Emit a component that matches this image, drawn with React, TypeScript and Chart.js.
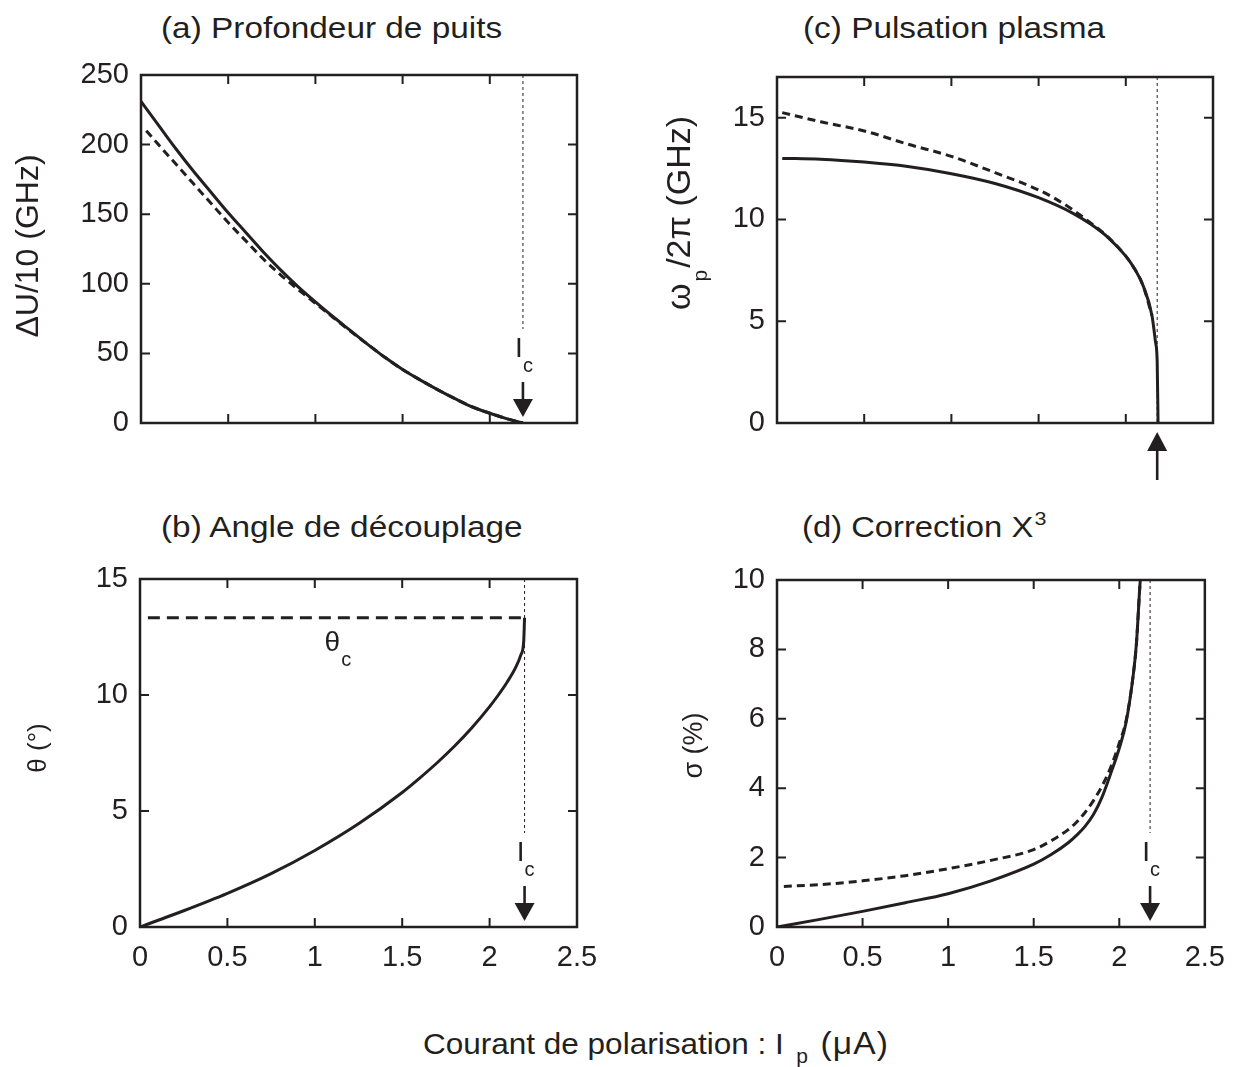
import React, { useEffect, useRef } from 'react';
import { Chart, registerables } from 'chart.js';

Chart.register(...registerables);

const FONT = "'Liberation Sans', Arial, Helvetica, sans-serif";
const INK = '#231f20';
Chart.defaults.font.family = FONT;

// ---------- shared x axis ----------
const X_MIN = 0;
const X_MAX = 2.5;
const X_STEP = 0.5;

// ---------- texts ----------
const TITLE_A = '(a) Profondeur de puits';
const TITLE_B = '(b) Angle de découplage';
const TITLE_C = '(c) Pulsation plasma';
const TITLE_D = '(d) Correction X';
const X_TITLE_MAIN = 'Courant de polarisation : I';
const X_TITLE_SUB = 'p';
const X_TITLE_END = '(μA)';

// ---------- (a) Profondeur de puits : ΔU/10 (GHz) ----------
const aSolidI = [0, 0.1, 0.2, 0.3, 0.4, 0.5, 0.6, 0.7, 0.8, 0.9, 1.0, 1.1, 1.2, 1.3, 1.4, 1.5, 1.6, 1.7, 1.8, 1.9, 2.0, 2.1, 2.15, 2.19];
const aSolidDU = [231, 214, 197, 181, 166, 151, 137, 123, 110, 98, 87, 76.5, 66.5, 56.5, 47, 38.5, 31, 24, 17.5, 11.5, 7, 3, 1.3, 0];
const aDashI = [0.03, 0.1, 0.2, 0.3, 0.4, 0.5, 0.6, 0.7, 0.8, 0.9, 1.0, 1.1, 1.2, 1.3, 1.4, 1.5, 1.6, 1.7, 1.8, 1.9, 2.0, 2.1, 2.15, 2.19];
const aDashDU = [210, 200, 186, 172, 158, 144, 131, 118, 106.5, 96, 86, 76, 66, 56.5, 47, 38.5, 31, 24, 17.5, 11.5, 7, 3, 1.3, 0];
const aIc = 2.19;
const aY = { min: 0, max: 250, step: 50 };

// ---------- (b) Angle de découplage : θ (°) ----------
const bI = [0, 0.1, 0.25, 0.5, 0.75, 1.0, 1.25, 1.5, 1.6, 1.7, 1.8, 1.9, 2.0, 2.05, 2.1, 2.15, 2.18, 2.195, 2.2];
const bTheta = [0, 0.28, 0.7, 1.45, 2.3, 3.3, 4.45, 5.8, 6.42, 7.08, 7.8, 8.6, 9.5, 10.0, 10.55, 11.2, 11.75, 12.3, 13.33];
const bThetaCI = [0.045, 2.2];
const bThetaCVal = [13.33, 13.33];
const bThetaLabelI = 1.1;
const bIc = 2.2;
const bY = { min: 0, max: 15, step: 5 };

// ---------- (c) Pulsation plasma : ωp/2π (GHz) ----------
const cSolidI = [0.03, 0.25, 0.5, 0.75, 1.0, 1.25, 1.5, 1.7, 1.8, 1.9, 2.0, 2.05, 2.1, 2.15, 2.17, 2.18, 2.185];
const cSolidW = [13.0, 12.96, 12.82, 12.6, 12.25, 11.77, 11.07, 10.29, 9.76, 9.1, 8.2, 7.58, 6.73, 5.28, 4.0, 3.0, 0];
const cDashI = [0.03, 0.25, 0.5, 0.75, 1.0, 1.25, 1.5, 1.6, 1.7, 1.8, 1.9, 2.0, 2.05, 2.1, 2.15];
const cDashW = [15.25, 14.8, 14.35, 13.7, 13.1, 12.3, 11.45, 11.0, 10.45, 9.82, 9.12, 8.2, 7.58, 6.73, 5.28];
const cIc = 2.18;
const cY = { min: 0, max: 17, step: 5 };

// ---------- (d) Correction X³ : σ (%) ----------
const dSolidI = [0, 0.25, 0.5, 0.75, 1.0, 1.25, 1.5, 1.6, 1.7, 1.75, 1.8, 1.85, 1.9, 1.95, 2.0, 2.04, 2.08, 2.1, 2.12, 2.13];
const dSolidS = [0, 0.22, 0.45, 0.7, 0.96, 1.33, 1.81, 2.08, 2.42, 2.64, 2.9, 3.25, 3.75, 4.42, 5.15, 5.9, 7.2, 8.15, 9.8, 10.5];
const dDashI = [0.04, 0.25, 0.5, 0.75, 1.0, 1.25, 1.5, 1.6, 1.7, 1.75, 1.8, 1.85, 1.9, 1.95, 2.0, 2.04, 2.08, 2.1, 2.12, 2.13];
const dDashS = [1.17, 1.22, 1.33, 1.48, 1.68, 1.92, 2.23, 2.48, 2.8, 3.02, 3.3, 3.65, 4.07, 4.6, 5.3, 5.95, 7.2, 8.15, 9.8, 10.5];
const dIc = 2.18;
const dY = { min: 0, max: 10, step: 2 };

// ---------- layout ----------
type Part = { t: string; size: number; shift?: number; gap?: number };
type Series = { xs: number[]; ys: number[]; dash?: number[] };
type Spec = {
  key: string;
  box: { left: number; top: number; width: number; height: number };
  area: { left: number; top: number; right: number; bottom: number };
  xLabels: boolean;
  y: { min: number; max: number; step: number };
  series: Series[];
  ic: number;
  marker: 'down' | 'up';
  yTitle: { x: number; dy: number; parts: Part[] };
  extra?: (chart: any) => void;
};

const CURVE_DASH = [8, 5];
const TICK_SIZE = 29;

const specs: Spec[] = [
  {
    key: 'a',
    box: { left: 0, top: 40, width: 620, height: 440 },
    area: { left: 141, top: 75, right: 577, bottom: 423 },
    xLabels: false,
    y: aY,
    series: [
      { xs: aSolidI, ys: aSolidDU },
      { xs: aDashI, ys: aDashDU, dash: CURVE_DASH },
    ],
    ic: aIc,
    marker: 'down',
    yTitle: { x: 38, dy: -3, parts: [{ t: 'ΔU/10 (GHz)', size: 32 }] },
  },
  {
    key: 'c',
    box: { left: 620, top: 40, width: 619, height: 440 },
    area: { left: 777, top: 77, right: 1213, bottom: 423 },
    xLabels: false,
    y: cY,
    series: [
      { xs: cSolidI, ys: cSolidW },
      { xs: cDashI, ys: cDashW, dash: CURVE_DASH },
    ],
    ic: cIc,
    marker: 'up',
    yTitle: {
      x: 690,
      dy: -37,
      parts: [
        { t: 'ω', size: 34 },
        { t: 'p', size: 21, shift: 17, gap: 2 },
        { t: '/2π (GHz)', size: 34 },
      ],
    },
  },
  {
    key: 'b',
    box: { left: 0, top: 540, width: 620, height: 470 },
    area: { left: 140, top: 579, right: 577, bottom: 927 },
    xLabels: true,
    y: bY,
    series: [
      { xs: bI, ys: bTheta },
      { xs: bThetaCI, ys: bThetaCVal, dash: [12, 7] },
    ],
    ic: bIc,
    marker: 'down',
    yTitle: { x: 46, dy: -5, parts: [{ t: 'θ (°)', size: 26 }] },
    extra: (chart) => {
      const { ctx, scales } = chart;
      const px = scales.x.getPixelForValue(bThetaLabelI);
      const py = scales.y.getPixelForValue(bThetaCVal[0]);
      ctx.fillStyle = INK;
      ctx.textAlign = 'center';
      ctx.textBaseline = 'alphabetic';
      ctx.font = `28px ${FONT}`;
      ctx.fillText('θ', px, py + 33);
      ctx.font = `20px ${FONT}`;
      ctx.fillText('c', px + 14, py + 48);
    },
  },
  {
    key: 'd',
    box: { left: 620, top: 540, width: 619, height: 470 },
    area: { left: 777, top: 580, right: 1213, bottom: 927 },
    xLabels: true,
    y: dY,
    series: [
      { xs: dSolidI, ys: dSolidS },
      { xs: dDashI, ys: dDashS, dash: CURVE_DASH },
    ],
    ic: dIc,
    marker: 'down',
    yTitle: { x: 702, dy: -8, parts: [{ t: 'σ (%)', size: 27 }] },
  },
];

function decor(spec: Spec) {
  return {
    id: 'decor_' + spec.key,
    afterDatasetsDraw(chart: any) {
      const { ctx, chartArea: a, scales } = chart;
      const xs = scales.x;
      const ys = scales.y;
      ctx.save();
      ctx.strokeStyle = INK;
      ctx.fillStyle = INK;

      // frame
      ctx.lineWidth = 2.5;
      ctx.setLineDash([]);
      ctx.strokeRect(a.left, a.top, a.right - a.left, a.bottom - a.top);

      // inward ticks on all four sides
      ctx.lineWidth = 2;
      ctx.beginPath();
      xs.ticks.forEach((t: any) => {
        const p = xs.getPixelForValue(t.value);
        if (p <= a.left + 2 || p >= a.right - 2) return;
        ctx.moveTo(p, a.bottom);
        ctx.lineTo(p, a.bottom - 9);
        ctx.moveTo(p, a.top);
        ctx.lineTo(p, a.top + 9);
      });
      ys.ticks.forEach((t: any) => {
        const p = ys.getPixelForValue(t.value);
        if (p <= a.top + 2 || p >= a.bottom - 2) return;
        ctx.moveTo(a.left, p);
        ctx.lineTo(a.left + 9, p);
        ctx.moveTo(a.right, p);
        ctx.lineTo(a.right - 9, p);
      });
      ctx.stroke();

      // Ic line and marker
      const px = xs.getPixelForValue(spec.ic);
      ctx.lineWidth = 1;
      ctx.setLineDash([3, 3]);
      ctx.beginPath();
      ctx.moveTo(px, a.top);
      ctx.lineTo(px, spec.marker === 'down' ? a.bottom - 94 : a.bottom);
      ctx.stroke();
      ctx.setLineDash([]);

      if (spec.marker === 'down') {
        const tip = a.bottom - 6;
        ctx.lineWidth = 2.6;
        ctx.beginPath();
        ctx.moveTo(px, tip - 35);
        ctx.lineTo(px, tip - 16);
        ctx.stroke();
        ctx.beginPath();
        ctx.moveTo(px - 10, tip - 18);
        ctx.lineTo(px + 10, tip - 18);
        ctx.lineTo(px, tip);
        ctx.closePath();
        ctx.fill();
        ctx.textAlign = 'center';
        ctx.textBaseline = 'alphabetic';
        ctx.font = `28px ${FONT}`;
        ctx.fillText('I', px - 4, tip - 60);
        ctx.font = `20px ${FONT}`;
        ctx.fillText('c', px + 5, tip - 45);
      } else {
        const tip = a.bottom + 9;
        ctx.beginPath();
        ctx.moveTo(px - 10, tip + 19);
        ctx.lineTo(px + 10, tip + 19);
        ctx.lineTo(px, tip);
        ctx.closePath();
        ctx.fill();
        ctx.lineWidth = 2.6;
        ctx.beginPath();
        ctx.moveTo(px, tip + 17);
        ctx.lineTo(px, tip + 48);
        ctx.stroke();
      }

      // rotated y title
      const bx = spec.yTitle.x - spec.box.left;
      const by = (a.top + a.bottom) / 2 + spec.yTitle.dy;
      ctx.translate(bx, by);
      ctx.rotate(-Math.PI / 2);
      ctx.textAlign = 'left';
      ctx.textBaseline = 'alphabetic';
      let total = 0;
      const widths = spec.yTitle.parts.map((p) => {
        ctx.font = `${p.size}px ${FONT}`;
        const w = ctx.measureText(p.t).width + (p.gap || 0) * 2;
        total += w;
        return w;
      });
      let cx = -total / 2;
      spec.yTitle.parts.forEach((p, i) => {
        ctx.font = `${p.size}px ${FONT}`;
        ctx.fillText(p.t, cx + (p.gap || 0), p.shift || 0);
        cx += widths[i];
      });
      ctx.setTransform(1, 0, 0, 1, 0, 0);

      if (spec.extra) spec.extra(chart);
      ctx.restore();
    },
  };
}

function fmt(v: number) {
  return String(Math.round(v * 1000) / 1000);
}

function makeChart(canvas: HTMLCanvasElement, spec: Spec) {
  const { box, area } = spec;
  const padTop = area.top - box.top;
  const padRight = box.left + box.width - area.right;
  const yW = area.left - box.left;
  const xH = box.top + box.height - area.bottom;
  const step = spec.y.step;
  return new Chart(canvas, {
    type: 'line',
    data: {
      datasets: spec.series.map((s) => ({
        data: s.xs.map((x, i) => ({ x, y: s.ys[i] })),
        borderColor: INK,
        borderWidth: 3,
        borderDash: s.dash || [],
        borderCapStyle: 'butt',
        borderJoinStyle: 'round',
        pointRadius: 0,
        pointHoverRadius: 0,
        cubicInterpolationMode: 'monotone',
        fill: false,
      })),
    },
    options: {
      responsive: false,
      animation: false,
      events: [],
      layout: { padding: { top: padTop, right: padRight, left: 0, bottom: 0 } },
      plugins: {
        legend: { display: false },
        tooltip: { enabled: false },
        title: { display: false },
      },
      scales: {
        x: {
          type: 'linear',
          min: X_MIN,
          max: X_MAX,
          grid: { display: false, drawTicks: false },
          border: { display: false },
          ticks: {
            display: spec.xLabels,
            stepSize: X_STEP,
            padding: 14,
            color: INK,
            font: { family: FONT, size: TICK_SIZE },
            maxRotation: 0,
            autoSkip: false,
            callback: (v: any) => fmt(Number(v)),
          },
          afterFit: (s: any) => {
            s.height = xH;
          },
        },
        y: {
          type: 'linear',
          min: spec.y.min,
          max: spec.y.max,
          grid: { display: false, drawTicks: false },
          border: { display: false },
          ticks: {
            stepSize: step,
            padding: 12,
            color: INK,
            font: { family: FONT, size: TICK_SIZE },
            callback: (v: any) => fmt(Number(v)),
          },
          afterBuildTicks: (s: any) => {
            s.ticks = s.ticks.filter((t: any) => Math.abs(t.value / step - Math.round(t.value / step)) < 1e-6);
          },
          afterFit: (s: any) => {
            s.width = yW;
          },
        },
      },
    },
    plugins: [decor(spec)],
  } as any);
}

function Panel({ spec }: { spec: Spec }) {
  const ref = useRef<HTMLCanvasElement | null>(null);
  useEffect(() => {
    if (!ref.current) return;
    const chart = makeChart(ref.current, spec);
    return () => chart.destroy();
  }, [spec]);
  return (
    <canvas
      ref={ref}
      width={spec.box.width}
      height={spec.box.height}
      style={{ position: 'absolute', left: spec.box.left, top: spec.box.top, width: spec.box.width, height: spec.box.height }}
    />
  );
}

function textStyle(left: number, baseline: number, size: number, sx: number): React.CSSProperties {
  return {
    position: 'absolute',
    left,
    top: baseline - 0.8465 * size,
    fontSize: size,
    lineHeight: `${size}px`,
    fontFamily: FONT,
    color: INK,
    whiteSpace: 'nowrap',
    transform: `scaleX(${sx})`,
    transformOrigin: '0 0',
  };
}

export default function App() {
  return (
    <div style={{ position: 'absolute', left: 0, top: 0, width: 1239, height: 1067, background: '#fff', overflow: 'hidden' }}>
      <div style={textStyle(161, 39, 29, 1.15)}>{TITLE_A}</div>
      <div style={textStyle(803, 39, 29, 1.15)}>{TITLE_C}</div>
      <div style={textStyle(161, 538, 29, 1.15)}>{TITLE_B}</div>
      <div style={textStyle(802, 538, 29, 1.13)}>
        {TITLE_D}
        <span style={{ fontSize: 19, position: 'relative', top: -12, marginLeft: 1 }}>3</span>
      </div>
      <div style={textStyle(423, 1053, 30, 1.05)}>
        {X_TITLE_MAIN}
        <span style={{ fontSize: 20, position: 'relative', top: 9, marginLeft: 12, marginRight: 12 }}>{X_TITLE_SUB}</span>
        <span style={{ fontSize: 32, letterSpacing: 1 }}>{X_TITLE_END}</span>
      </div>
      {specs.map((s) => (
        <Panel key={s.key} spec={s} />
      ))}
    </div>
  );
}
